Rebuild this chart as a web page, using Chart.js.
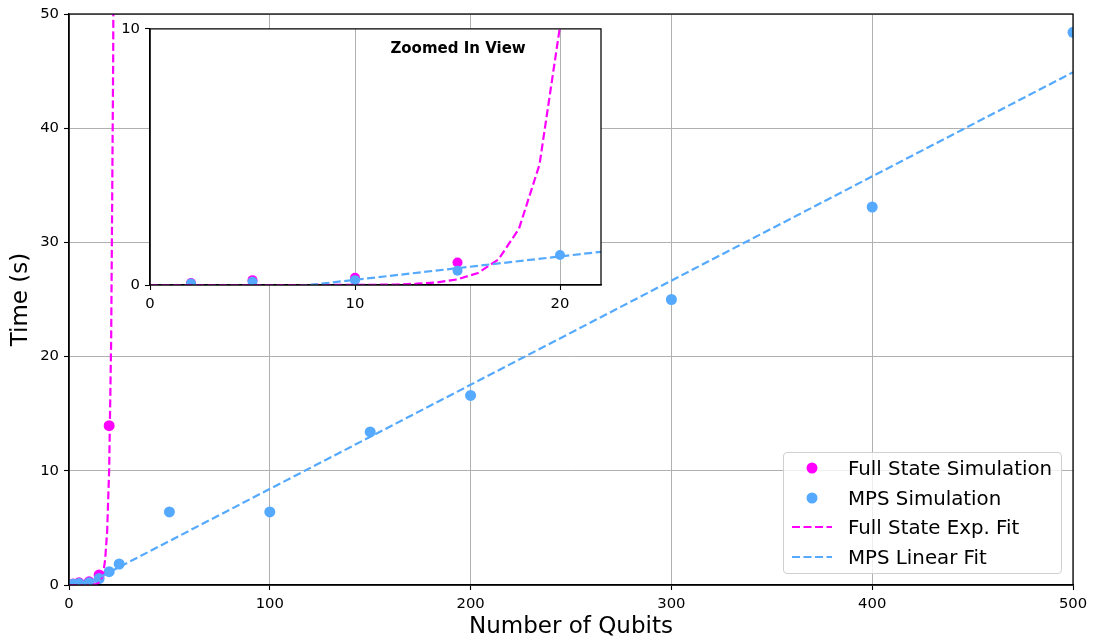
<!DOCTYPE html>
<html>
<head>
<meta charset="utf-8">
<script src="https://cdn.jsdelivr.net/npm/chart.js@4/dist/chart.umd.min.js"></script>
<style>
  html, body { margin: 0; padding: 0; background: #fff; }
  #wrap { position: relative; width: 1098px; height: 641px; overflow: hidden; font-family: 'DejaVu Sans', sans-serif; }
  #main { position: absolute; left: 0; top: 0; }
  #inset { position: absolute; left: 100px; top: 15px; }
  #legend { position: absolute; left: 783px; top: 452px; width: 279px; height: 122px;
            border: 1px solid #d0d0d0; border-radius: 4px; background: rgba(255,255,255,0.8); box-sizing: border-box; }
  .li { position: absolute; left: 0; height: 30px; width: 100%; }
  .li svg { position: absolute; left: 8px; top: 0; }
  .li span { position: absolute; left: 64px; top: 50%; transform: translateY(-50%); font-size: 19.8px; color: #000; white-space: nowrap; }
</style>
</head>
<body>
<div id="wrap">
  <canvas id="main" width="1098" height="641"></canvas>
  <canvas id="inset" width="520" height="300"></canvas>
  <div id="legend"></div>
</div>
<script>
// ---- data ----
const fullX = [2, 5, 10, 15, 20];
const fullY = [0.08, 0.19, 0.28, 0.88, 13.95];
const mpsX = [2, 5, 10, 15, 20, 25, 50, 100, 150, 200, 300, 400, 500];
const mpsY = [0.06, 0.13, 0.19, 0.56, 1.17, 1.84, 6.4, 6.4, 13.4, 16.6, 25.0, 33.1, 48.4];
const expFitX = [0, 2, 4, 6, 8, 9, 10, 11, 12, 13, 14, 15, 16, 17, 18, 19, 20, 21, 22, 23];
const expFitY = [0, 0, 0, 0, 0.001, 0.002, 0.005, 0.01, 0.02, 0.05, 0.1, 0.22, 0.47, 1.0, 2.2, 4.7, 10.1, 21.5, 46, 99];
const linFitX = [0, 500];
const linFitY = [-0.71, 44.9];
const xTicksMain = [0, 100, 200, 300, 400, 500];
const yTicksMain = [0, 10, 20, 30, 40, 50];
const xTicksInset = [0, 10, 20];
const yTicksInset = [0, 10];

const labels = ['Full State Simulation', 'MPS Simulation', 'Full State Exp. Fit', 'MPS Linear Fit'];
const MAGENTA = '#ff00ff';
const BLUE = '#55aaff';
const FONT = "'DejaVu Sans', sans-serif";

function pts(xs, ys) { return xs.map((x, i) => ({ x: x, y: ys[i] })); }

function makeDatasets(r) {
  return [
    { label: labels[0], data: pts(fullX, fullY), showLine: false, pointRadius: r, pointBackgroundColor: MAGENTA, pointBorderWidth: 0, backgroundColor: MAGENTA, order: 4 },
    { label: labels[1], data: pts(mpsX, mpsY), showLine: false, pointRadius: r, pointBackgroundColor: BLUE, pointBorderWidth: 0, backgroundColor: BLUE, order: 3 },
    { label: labels[2], data: pts(expFitX, expFitY), showLine: true, pointRadius: 0, borderColor: MAGENTA, borderWidth: 2.2, borderDash: [8, 3.5], tension: 0, order: 2 },
    { label: labels[3], data: pts(linFitX, linFitY), showLine: true, pointRadius: 0, borderColor: BLUE, borderWidth: 2.2, borderDash: [8, 3.5], tension: 0, order: 1 }
  ];
}

const framePlugin = {
  id: 'frame',
  beforeDraw(chart, args, opts) {
    if (opts.fill) {
      const a = chart.chartArea, c = chart.ctx;
      c.save(); c.fillStyle = '#fff'; c.fillRect(a.left, a.top, a.right - a.left, a.bottom - a.top); c.restore();
    }
  },
  afterDraw(chart, args, opts) {
    const a = chart.chartArea, c = chart.ctx;
    c.save(); c.strokeStyle = '#000'; c.lineWidth = 1.25;
    c.strokeRect(a.left, a.top, a.right - a.left, a.bottom - a.top);
    if (opts.title) {
      c.font = "bold 15px " + FONT; c.fillStyle = '#000'; c.textAlign = 'center'; c.textBaseline = 'middle';
      c.fillText(opts.title, a.left + 0.683 * (a.right - a.left), a.top + 20);
    }
    c.restore();
  }
};

function axis(min, max, tickVals, opt) {
  return {
    type: 'linear', min: min, max: max,
    afterBuildTicks: (s) => { s.ticks = tickVals.map(v => ({ value: v })); },
    afterFit: opt.fit,
    grid: { display: true, drawOnChartArea: opt.grid, color: '#b0b0b0', lineWidth: 1, tickColor: '#000', tickLength: 5, tickWidth: 1.1 },
    border: { display: true, color: '#000', width: 1.25 },
    ticks: { color: '#000', font: { family: FONT, size: 14.8 }, padding: 5, maxRotation: 0, autoSkip: false },
    title: opt.title ? { display: true, text: opt.title, color: '#000', font: { family: FONT, size: 23, lineHeight: 1.2 }, padding: opt.tpad } : { display: false }
  };
}

new Chart(document.getElementById('main'), {
  type: 'scatter',
  data: { datasets: makeDatasets(5.5) },
  options: {
    responsive: false, animation: false, devicePixelRatio: 1, events: [],
    layout: { padding: { left: 0, right: 25, top: 14, bottom: 0 } },
    plugins: { legend: { display: false }, tooltip: { enabled: false }, frame: {} },
    scales: {
      x: axis(0, 500, xTicksMain, { grid: true, fit: s => { s.height = 56; }, title: 'Number of Qubits', tpad: { top: 0, bottom: 0 } }),
      y: axis(0, 50, yTicksMain, { grid: true, fit: s => { s.width = 69; }, title: 'Time (s)', tpad: { top: 7, bottom: 0 } })
    }
  },
  plugins: [framePlugin]
});

new Chart(document.getElementById('inset'), {
  type: 'scatter',
  data: { datasets: makeDatasets(5) },
  options: {
    responsive: false, animation: false, devicePixelRatio: 1, events: [],
    layout: { padding: { left: 0, right: 19, top: 13, bottom: 0 } },
    plugins: { legend: { display: false }, tooltip: { enabled: false }, frame: { fill: true, title: 'Zoomed In View' } },
    scales: {
      x: axis(0, 22, xTicksInset, { grid: true, fit: s => { s.height = 30; } }),
      y: axis(0, 10, yTicksInset, { grid: false, fit: s => { s.width = 50; } })
    }
  },
  plugins: [framePlugin]
});

// HTML legend
const lg = document.getElementById('legend');
const colors = [MAGENTA, BLUE, MAGENTA, BLUE];
const rowsY = [0, 30, 59, 89];
labels.forEach((t, i) => {
  const d = document.createElement('div');
  d.className = 'li'; d.style.top = rowsY[i] + 'px';
  const mk = i < 2
    ? `<circle cx="20" cy="15" r="5.5" fill="${colors[i]}"/>`
    : `<line x1="0" y1="15" x2="40" y2="15" stroke="${colors[i]}" stroke-width="2.2" stroke-dasharray="8 3.5"/>`;
  d.innerHTML = `<svg width="42" height="30">${mk}</svg><span>${t}</span>`;
  lg.appendChild(d);
});
</script>
</body>
</html>
